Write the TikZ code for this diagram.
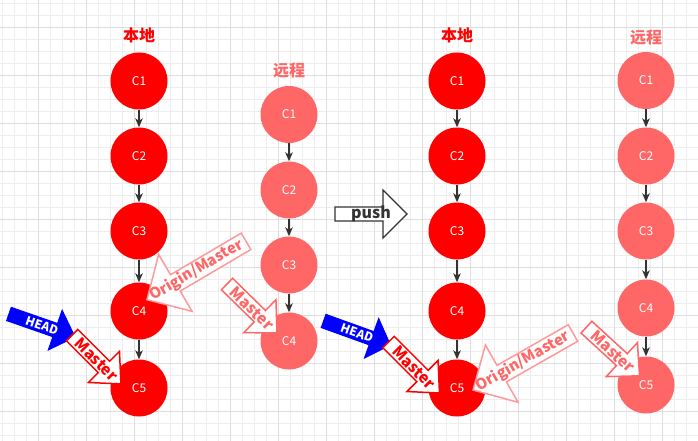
\documentclass[tikz,border=0pt]{standalone}
\usepackage{fontspec}
\setmainfont{Noto Sans CJK SC}
\newfontfamily\cjk{Noto Sans CJK SC}
\usepackage{xcolor}
\usetikzlibrary{arrows.meta}
\definecolor{localred}{HTML}{FF0000}
\definecolor{remotered}{HTML}{FF6666}
\definecolor{originpink}{HTML}{FF9999}
\definecolor{headblue}{HTML}{0000FF}
\definecolor{darkline}{HTML}{333333}
\definecolor{gridlight}{HTML}{EDEDED}
\definecolor{griddark}{HTML}{DEDEDE}
\tikzset{
    localc/.style = {circle, fill=localred, text=white, minimum size=57pt, inner sep=0pt, font=\fontsize{12}{14}\selectfont},
    remotec/.style = {localc, fill=remotered},
    link/.style = {-{Stealth[length=9pt,width=7.5pt,inset=2.5pt]}, line width=1.2pt, draw=darkline},
    localtitle/.style = {text=localred, font=\cjk\bfseries\fontsize{16}{18}\selectfont, inner sep=0pt},
    remotetitle/.style = {localtitle, text=remotered},
    gridminor/.style = {draw=gridlight, line width=1pt},
    gridmajor/.style = {draw=griddark, line width=1pt},
    headarrow/.style = {fill=headblue, draw=headblue, line width=1pt, line join=miter},
    headarrow text/.style = {text=white, font=\bfseries\fontsize{12}{14}\selectfont, inner sep=0pt},
    masterarrow/.style = {fill=white, draw=localred, line width=1.5pt},
    masterarrow text/.style = {text=localred, font=\bfseries\fontsize{15.5}{17}\selectfont, inner sep=0pt},
    masterremote/.style = {fill=white, draw=remotered, line width=1.5pt},
    masterremote text/.style = {text=remotered, font=\bfseries\fontsize{15.5}{17}\selectfont, inner sep=0pt},
    originarrow/.style = {fill=white, draw=originpink, line width=1.5pt},
    originarrow text/.style = {text=remotered, font=\bfseries\fontsize{15}{17}\selectfont, inner sep=0pt},
    pusharrow/.style = {fill=white, draw=darkline, line width=1.3pt},
    pusharrow text/.style = {text=darkline, font=\bfseries\fontsize{16}{18}\selectfont, inner sep=0pt},
}
% #1 look, #2 name, #3 middle, #4 angle, #5 length, #6 body, #7 head width, #8 head length, #9 text
\newcommand{\blockarrow}[9]{%
  \begin{scope}[shift={#3}, rotate=#4]
    \draw[#1] ({-(#5)/2},{-(#6)/2}) -- ({(#5)/2-(#8)},{-(#6)/2}) -- ({(#5)/2-(#8)},{-(#7)/2})
      -- ({(#5)/2},0) -- ({(#5)/2-(#8)},{(#7)/2}) -- ({(#5)/2-(#8)},{(#6)/2}) -- ({-(#5)/2},{(#6)/2}) -- cycle;
    \node[#1 text, rotate=#4] (#2) at (0,0) {#9};
  \end{scope}}

\begin{document}
\begin{tikzpicture}[x=1pt, y=-1pt]
\fill[white] (0,0) rectangle (698,441);
\useasboundingbox (0,0) rectangle (698,441);
% grid
\foreach \x in {2.7,14.7,...,698} \draw[gridminor] (\x,0) -- (\x,441);
\foreach \y in {3.3,15.3,...,441} \draw[gridminor] (0,\y) -- (698,\y);
\foreach \x in {38.7,86.7,...,698} \draw[gridmajor] (\x,0) -- (\x,441);
\foreach \y in {27.3,75.3,...,441} \draw[gridmajor] (0,\y) -- (698,\y);
%
\node[localtitle] (ta) at (139,35.5) {本地};
\node[remotetitle] (tb) at (289,70.5) {远程};
\node[localtitle] (tc) at (457,35.5) {本地};
\node[remotetitle] (td) at (646,37.5) {远程};
% before push
\node[localc] (la1) at (139,81) {C1};
\node[localc] (la2) at (139,156) {C2};
\node[localc] (la3) at (139,231) {C3};
\node[localc] (la4) at (139,311) {C4};
\node[localc] (la5) at (139,388) {C5};
\node[remotec] (ra1) at (289,114.5) {C1};
\node[remotec] (ra2) at (289,190) {C2};
\node[remotec] (ra3) at (289,265) {C3};
\node[remotec] (ra4) at (289,341) {C4};
% after push
\node[localc] (lb1) at (457,81) {C1};
\node[localc] (lb2) at (457,156) {C2};
\node[localc] (lb3) at (457,231) {C3};
\node[localc] (lb4) at (457,311) {C4};
\node[localc] (lb5) at (457,388) {C5};
\node[remotec] (rb1) at (646,80.5) {C1};
\node[remotec] (rb2) at (646,156) {C2};
\node[remotec] (rb3) at (646,231) {C3};
\node[remotec] (rb4) at (646,308) {C4};
\node[remotec] (rb5) at (646,385) {C5};
%
\draw[link] (la1) -- (la2);
\draw[link] (la2) -- (la3);
\draw[link] (la3) -- (la4);
\draw[link] (la4) -- (la5);
\draw[link] (ra1) -- (ra2);
\draw[link] (ra2) -- (ra3);
\draw[link] (ra3) -- (ra4);
\draw[link] (lb1) -- (lb2);
\draw[link] (lb2) -- (lb3);
\draw[link] (lb3) -- (lb4);
\draw[link] (lb4) -- (lb5);
\draw[link] (rb1) -- (rb2);
\draw[link] (rb2) -- (rb3);
\draw[link] (rb3) -- (rb4);
\draw[link] (rb4) -- (rb5);
% pointers
\blockarrow{headarrow}{heada}{(42,325.5)}{-19.2}{70}{14}{42}{21}{HEAD}
\blockarrow{masterarrow}{mastera}{(96.5,359.5)}{-45}{69}{16}{44}{24}{Master}
\blockarrow{originarrow}{origina}{(196.5,270.5)}{30.5}{-115}{19}{66}{-33}{Origin/Master}
\blockarrow{masterremote}{masterb}{(252,308.5)}{-44.4}{70}{16}{46}{24}{Master}
\blockarrow{pusharrow}{push}{(371,214)}{0}{72}{14}{48}{24}{push}
\blockarrow{headarrow}{headb}{(357,333)}{-19.8}{71}{14}{42}{20}{HEAD}
\blockarrow{masterarrow}{masterc}{(414,367.5)}{-45}{72}{16}{44}{24}{Master}
\blockarrow{originarrow}{originb}{(523,361.5)}{29.7}{-115}{19}{66}{-33}{Origin/Master}
\blockarrow{masterremote}{masterd}{(613,351.5)}{-42.5}{72}{16}{46}{24}{Master}
\end{tikzpicture}
\end{document}
